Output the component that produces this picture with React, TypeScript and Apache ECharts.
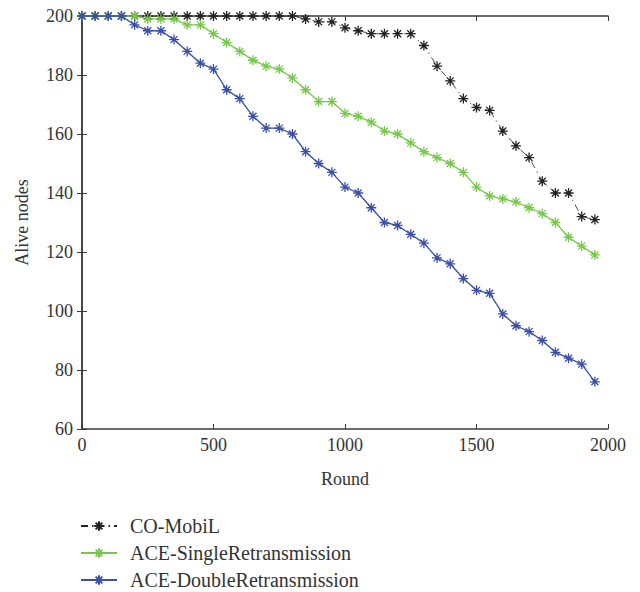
import React, { useEffect, useRef } from "react";
import * as echarts from "echarts";

const rounds = [0,50,100,150,200,250,300,350,400,450,500,550,600,650,700,750,800,850,900,950,1000,1050,1100,1150,1200,1250,1300,1350,1400,1450,1500,1550,1600,1650,1700,1750,1800,1850,1900,1950];
const coMobil = [200,200,200,200,200,200,200,200,200,200,200,200,200,200,200,200,200,199,198,198,196,195,194,194,194,194,190,183,178,172,169,168,161,156,152,144,140,140,132,131];
const aceSingle = [200,200,200,200,200,199,199,199,197,197,194,191,188,185,183,182,179,175,171,171,167,166,164,161,160,157,154,152,150,147,142,139,138,137,135,133,130,125,122,119];
const aceDouble = [200,200,200,200,197,195,195,192,188,184,182,175,172,166,162,162,160,154,150,147,142,140,135,130,129,126,123,118,116,111,107,106,99,95,93,90,86,84,82,76];
const seriesNames = ["CO-MobiL", "ACE-SingleRetransmission", "ACE-DoubleRetransmission"];
const xTicks = [0, 2000, 500];
const yTicks = [60, 200, 20];

const star = "path://M5 0 L5 10 M0 5 L10 5 M1.5 1.5 L8.5 8.5 M8.5 1.5 L1.5 8.5";
const FONT = "Liberation Serif";

export default function App() {
  const ref = useRef<HTMLDivElement>(null);
  useEffect(() => {
    const chart = echarts.init(ref.current!, null, { renderer: "svg" });
    const pts = (v: number[]) => rounds.map((r, i) => [r, v[i]]);
    const mk = (name: string, vals: number[], color: string, type: any, width: number) => ({
      name,
      type: "line",
      data: pts(vals),
      symbol: star,
      symbolSize: 10,
      showSymbol: true,
      itemStyle: { color: "rgba(0,0,0,0)", borderColor: color, borderWidth: 1.3 },
      lineStyle: { color, width, type },
      xAxisIndex: 0,
      yAxisIndex: 0,
    });
    const axisLine = { lineStyle: { color: "#3a3a3a", width: 1.5 } };
    const tick = { inside: true, length: 5, lineStyle: { color: "#3a3a3a", width: 1 } };
    const legendTops = [516, 543, 570];
    chart.setOption({
      animation: false,
      backgroundColor: "#fff",
      grid: { left: 82, right: 32, top: 16, bottom: 163, containLabel: false },
      legend: seriesNames.map((n, i) => ({
        orient: "vertical",
        left: 80,
        top: legendTops[i],
        padding: 0,
        itemWidth: 36,
        itemHeight: 12,
        data: [n],
        textStyle: { fontFamily: FONT, fontSize: 20, color: "#333", padding: [0, 0, 0, 8] },
      })),
      xAxis: [
        {
          type: "value", min: xTicks[0], max: xTicks[1], interval: xTicks[2],
          name: "Round", nameLocation: "middle", nameGap: 41,
          nameTextStyle: { fontFamily: FONT, fontSize: 18, color: "#333" },
          axisLine, axisTick: tick, splitLine: { show: false },
          axisLabel: { fontFamily: FONT, fontSize: 18, color: "#333", margin: 7, formatter: (v: number) => String(v) },
        },
        {
          type: "value", position: "top", min: xTicks[0], max: xTicks[1], interval: xTicks[2],
          axisLine, axisTick: tick, splitLine: { show: false }, axisLabel: { show: false },
        },
      ],
      yAxis: [
        {
          type: "value", min: yTicks[0], max: yTicks[1], interval: yTicks[2],
          name: "Alive nodes", nameLocation: "middle", nameGap: 51, nameRotate: 90,
          nameTextStyle: { fontFamily: FONT, fontSize: 18, color: "#333" },
          axisLine, axisTick: tick, splitLine: { show: false },
          axisLabel: { fontFamily: FONT, fontSize: 18, color: "#333", margin: 9 },
        },
        {
          type: "value", position: "right", min: yTicks[0], max: yTicks[1], interval: yTicks[2],
          axisLine, axisTick: tick, splitLine: { show: false }, axisLabel: { show: false },
        },
      ],
      series: [
        mk(seriesNames[0], coMobil, "#222222", [7, 4, 1.5, 4], 0.8),
        mk(seriesNames[1], aceSingle, "#77c84a", "solid", 1.3),
        mk(seriesNames[2], aceDouble, "#3a4fa6", "solid", 1.3),
      ],
    });
    return () => chart.dispose();
  }, []);
  return <div ref={ref} style={{ position: "absolute", left: 0, top: 0, width: 640, height: 592 }} />;
}
